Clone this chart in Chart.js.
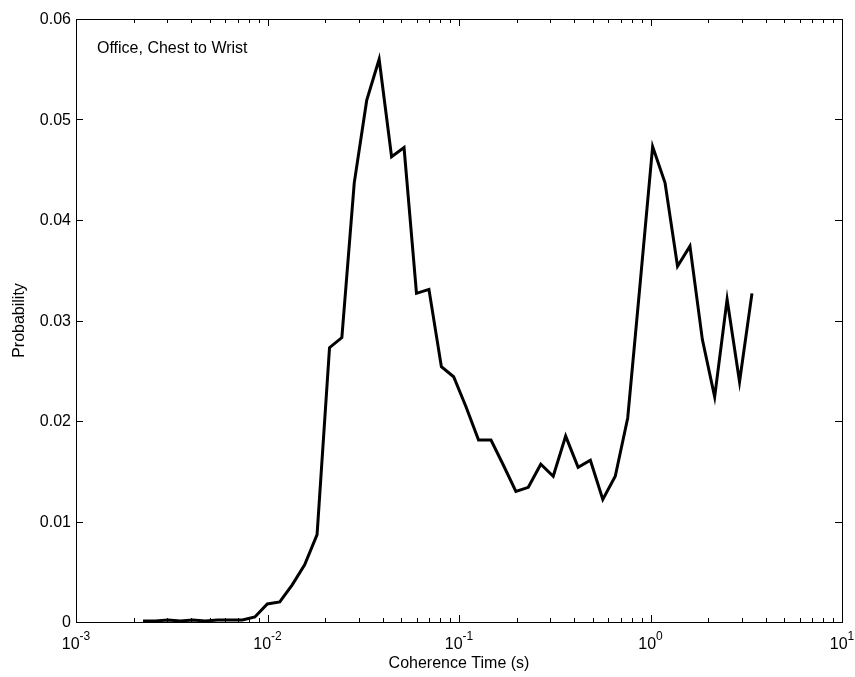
<!DOCTYPE html>
<html>
<head>
<meta charset="utf-8">
<script src="https://cdn.jsdelivr.net/npm/chart.js@4"></script>
<style>
  body { margin: 0; background: #fff; }
  canvas { display: block; }
</style>
</head>
<body>
<canvas id="Chart" width="855" height="677"></canvas>
<script>
// coherence time bins (s), log spaced
const coherenceTime = [
    0.002239, 0.002600, 0.003020, 0.003508, 0.004074, 0.004732, 0.005483, 0.006368, 0.007396, 0.008590,
    0.009977, 0.01159, 0.01346, 0.01563, 0.01815, 0.02108, 0.02445, 0.02838, 0.03296, 0.03828,
    0.04446, 0.05164, 0.05998, 0.06966, 0.08091, 0.09376, 0.1089, 0.1265, 0.1469, 0.1706,
    0.1982, 0.2301, 0.2673, 0.3105, 0.3606, 0.4188, 0.4853, 0.5636, 0.6546, 0.7603,
    0.8831, 1.026, 1.191, 1.384, 1.607, 1.866, 2.163, 2.512, 2.917, 3.388
];
const probability = [
    0.0001, 0.0001, 0.0002, 0.0001, 0.0002, 0.0001, 0.0002, 0.0002, 0.0002, 0.0005,
    0.0018, 0.0020, 0.0037, 0.0057, 0.0087, 0.0273, 0.0283, 0.0437, 0.0519, 0.0560,
    0.0463, 0.0472, 0.0327, 0.0331, 0.0254, 0.0244, 0.0214, 0.0181, 0.0181, 0.0156,
    0.0130, 0.0134, 0.0157, 0.0145, 0.0185, 0.0154, 0.0161, 0.0122, 0.0145, 0.0203,
    0.0337, 0.0473, 0.0437, 0.0354, 0.0374, 0.0281, 0.0224, 0.0321, 0.0239, 0.0327
];
const yTicks = [0, 0.01, 0.02, 0.03, 0.04, 0.05, 0.06];
const yTickLabels = ["0", "0.01", "0.02", "0.03", "0.04", "0.05", "0.06"];
const xDecades = [-3, -2, -1, 0, 1];
const xTitle = "Coherence Time (s)";
const yTitle = "Probability";
const noteText = "Office, Chest to Wrist";

const FONT = "'Liberation Sans', Arial, sans-serif";

// frame, inward ticks, labels - matlab style
const axesBox = {
    id: "axesBox",
    afterDraw(chart) {
        const ctx = chart.ctx;
        const a = chart.chartArea;
        const xs = chart.scales.x;
        const ys = chart.scales.y;
        const major = 7, minor = 4;

        ctx.save();
        ctx.strokeStyle = "#000";
        ctx.lineWidth = 1;
        ctx.strokeRect(Math.round(a.left) + 0.5, Math.round(a.top) + 0.5,
            Math.round(a.right - a.left), Math.round(a.bottom - a.top));

        ctx.beginPath();
        // y ticks left + right
        yTicks.forEach(v => {
            const py = Math.round(ys.getPixelForValue(v)) + 0.5;
            ctx.moveTo(a.left, py); ctx.lineTo(a.left + major, py);
            ctx.moveTo(a.right, py); ctx.lineTo(a.right - major, py);
        });
        // x ticks bottom + top, with minors
        xDecades.forEach(d => {
            for (let m = 1; m <= 9; m++) {
                const v = m * Math.pow(10, d);
                if (v > 10.0001) continue;
                const px = Math.round(xs.getPixelForValue(v)) + 0.5;
                const len = m === 1 ? major : minor;
                ctx.moveTo(px, a.bottom); ctx.lineTo(px, a.bottom - len);
                ctx.moveTo(px, a.top); ctx.lineTo(px, a.top + len);
            }
        });
        ctx.stroke();

        ctx.fillStyle = "#000";
        ctx.font = "16px " + FONT;
        ctx.textAlign = "right";
        ctx.textBaseline = "middle";
        yTicks.forEach((v, i) => {
            ctx.fillText(yTickLabels[i], a.left - 5, ys.getPixelForValue(v) + 1);
        });

        // 10^n labels
        ctx.textBaseline = "alphabetic";
        xDecades.forEach(d => {
            const px = xs.getPixelForValue(Math.pow(10, d));
            ctx.font = "16px " + FONT;
            const baseW = ctx.measureText("10").width;
            ctx.font = "12px " + FONT;
            const sup = String(d);
            const supW = ctx.measureText(sup).width;
            const left = px - (baseW + supW) / 2;
            ctx.font = "16px " + FONT;
            ctx.textAlign = "left";
            ctx.fillText("10", left, a.bottom + 27);
            ctx.font = "12px " + FONT;
            ctx.fillText(sup, left + baseW, a.bottom + 18);
        });

        ctx.font = "16px " + FONT;
        ctx.textAlign = "center";
        ctx.fillText(xTitle, (a.left + a.right) / 2, a.bottom + 46);

        ctx.save();
        ctx.translate(24, (a.top + a.bottom) / 2);
        ctx.rotate(-Math.PI / 2);
        ctx.fillText(yTitle, 0, 0);
        ctx.restore();

        ctx.textAlign = "left";
        ctx.textBaseline = "middle";
        ctx.fillText(noteText, 97, 49);
        ctx.restore();
    }
};

const points = coherenceTime.map((t, i) => ({ x: t, y: probability[i] }));

new Chart(document.getElementById("Chart"), {
    type: "line",
    data: {
        datasets: [{
            data: points,
            borderColor: "#000",
            borderWidth: 3,
            pointRadius: 0,
            tension: 0,
            fill: false,
            clip: 4
        }]
    },
    options: {
        responsive: false,
        animation: false,
        layout: { padding: { left: 76, right: 13, top: 19, bottom: 55 } },
        plugins: { legend: { display: false }, tooltip: { enabled: false } },
        scales: {
            x: { type: "logarithmic", min: 0.001, max: 10, display: false },
            y: { type: "linear", min: 0, max: 0.06, display: false }
        }
    },
    plugins: [axesBox]
});
</script>
</body>
</html>
